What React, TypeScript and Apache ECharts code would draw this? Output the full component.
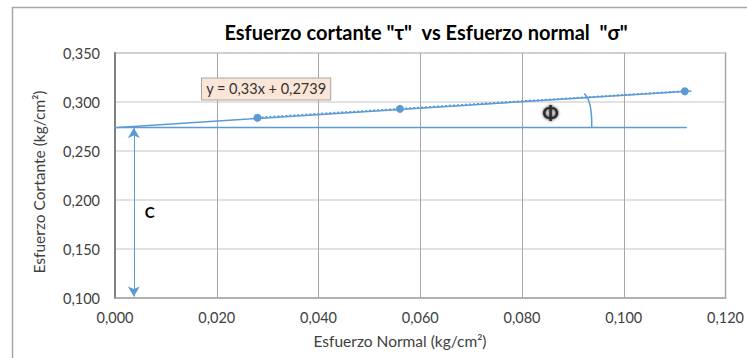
import React, { useEffect, useRef } from "react";
import * as echarts from "echarts";

// Ensayo de corte directo: esfuerzo normal vs esfuerzo cortante
const normalStress = [0.028, 0.056, 0.112];
const shearStress = [0.284, 0.293, 0.311];

// Recta de ajuste (envolvente de falla)
const slope = 0.33;
const intercept = 0.2739;
const trendRange = [-0.0008, 0.1133];
const cohesionLineRange = [0.0004, 0.1124];
const cohesionArrowX = 0.0037;

const xTicks = { min: 0, max: 0.12, interval: 0.02 };
const yTicks = { min: 0.1, max: 0.35, interval: 0.05 };

const xTitle = "Esfuerzo Normal (kg/cm²)";
const yTitle = "Esfuerzo Cortante (kg/cm²)";

const BLUE = "#5b9bd5";
const FONT = "Lato, 'Open Sans', sans-serif";

const fmt = (v: number, d: number) => v.toFixed(d).replace(".", ",");

export default function App() {
  const ref = useRef<HTMLDivElement>(null);

  useEffect(() => {
    if (!ref.current) return;
    const chart = echarts.init(ref.current, undefined, { renderer: "svg" });

    const points = normalStress.map((x, i) => [x, shearStress[i]]);
    const trend = trendRange.map((x) => [x, intercept + slope * x]);
    const cohesion = cohesionLineRange.map((x) => [x, intercept]);
    const equation = `y = ${fmt(slope, 2)}x + ${fmt(intercept, 4)}`;

    chart.setOption({
      animation: false,
      backgroundColor: "#ffffff",
      textStyle: { fontFamily: FONT },
      title: {
        text: 'Esfuerzo cortante "τ"  vs Esfuerzo normal  "σ"',
        left: 421,
        top: 17,
        textAlign: "center",
        textStyle: { fontFamily: FONT, fontSize: 20, fontWeight: "bold", color: "#000" },
      },
      graphic: [
        {
          type: "rect",
          left: 10,
          top: 5,
          shape: { width: 780, height: 400 },
          style: { fill: "none", stroke: "#a6a6a6", lineWidth: 1.5 },
          silent: true,
        },
        {
          type: "text",
          x: 400,
          y: 341,
          style: {
            text: xTitle,
            fill: "#404040",
            font: `15.5px ${FONT}`,
            align: "center",
            verticalAlign: "middle",
          },
          silent: true,
        },
        {
          type: "text",
          x: 39,
          y: 182,
          rotation: Math.PI / 2,
          style: {
            text: yTitle,
            fill: "#404040",
            font: `15.5px ${FONT}`,
            align: "center",
            verticalAlign: "middle",
          },
          silent: true,
        },
      ],
      grid: {
        left: 115,
        top: 53,
        right: 19,
        bottom: 60,
        show: true,
        borderColor: "#a6a6a6",
        borderWidth: 1.5,
      },
      xAxis: {
        type: "value",
        ...xTicks,
        axisLine: { show: true, lineStyle: { color: "#a6a6a6", width: 1.5 } },
        axisTick: { show: false },
        axisLabel: {
          fontFamily: FONT,
          fontSize: 14.5,
          color: "#404040",
          margin: 12,
          formatter: (v: number) => fmt(v, 3),
        },
        splitLine: { show: true, lineStyle: { color: "#a6a6a6", width: 1 } },
      },
      yAxis: {
        type: "value",
        ...yTicks,
        axisLine: { show: true, lineStyle: { color: "#808080", width: 2 } },
        axisTick: { show: false },
        axisLabel: {
          fontFamily: FONT,
          fontSize: 14.5,
          color: "#404040",
          margin: 15,
          formatter: (v: number) => fmt(v, 3),
        },
        splitLine: { show: true, lineStyle: { color: "#d9d9d9", width: 1.5 } },
      },
      series: [
        {
          name: "Envolvente",
          type: "line",
          data: trend,
          clip: false,
          symbol: "none",
          lineStyle: { color: BLUE, width: 1.5 },
          z: 3,
        },
        {
          name: "Cohesión",
          type: "line",
          data: cohesion,
          clip: false,
          symbol: "none",
          lineStyle: { color: BLUE, width: 1.5 },
          z: 3,
          markLine: {
            silent: true,
            symbol: ["arrow", "arrow"],
            symbolSize: [9, 10],
            label: { show: false },
            lineStyle: { color: BLUE, width: 1, type: "solid" },
            data: [
              [
                { coord: [cohesionArrowX, intercept - 0.0004] },
                { coord: [cohesionArrowX, yTicks.min + 0.0015] },
              ],
            ],
          },
        },
        {
          name: "Ensayos",
          type: "line",
          data: points,
          symbol: "circle",
          symbolSize: 8,
          itemStyle: { color: BLUE },
          lineStyle: { color: BLUE, width: 2, type: "dotted" },
          z: 4,
        },
        {
          name: "Anotaciones",
          type: "custom",
          clip: false,
          data: [[0]],
          z: 5,
          renderItem: (_params: any, api: any) => {
            const p0 = api.coord([0.0922, 0.3085]);
            const cp = api.coord([0.0938, 0.302]);
            const p1 = api.coord([0.0937, intercept]);
            const phi = api.coord([0.0856, 0.2888]);
            const cLbl = api.coord([0.0068, 0.1878]);
            const eq = api.coord([0.0297, 0.3133]);
            return {
              type: "group",
              children: [
                {
                  type: "bezierCurve",
                  shape: { x1: p0[0], y1: p0[1], cpx1: cp[0], cpy1: cp[1], x2: p1[0], y2: p1[1] },
                  style: { fill: "none", stroke: BLUE, lineWidth: 1.5 },
                },
                {
                  type: "text",
                  x: phi[0],
                  y: phi[1],
                  style: {
                    text: "Φ",
                    fill: "#2a2a2a",
                    font: `bold 19px ${FONT}`,
                    align: "center",
                    verticalAlign: "middle",
                    textShadowColor: "rgba(0,0,0,0.85)",
                    textShadowBlur: 3,
                  },
                },
                {
                  type: "text",
                  x: cLbl[0],
                  y: cLbl[1],
                  style: {
                    text: "C",
                    fill: "#000",
                    font: `bold 15px ${FONT}`,
                    align: "center",
                    verticalAlign: "middle",
                  },
                },
                {
                  type: "text",
                  x: eq[0],
                  y: eq[1],
                  style: {
                    text: equation,
                    fill: "#333333",
                    font: `14.5px ${FONT}`,
                    align: "center",
                    verticalAlign: "middle",
                    backgroundColor: "#fbe5d6",
                    borderColor: "#a6a6a6",
                    borderWidth: 1,
                    padding: [3, 4, 3, 4],
                  },
                },
              ],
            };
          },
        },
      ],
    });

    return () => chart.dispose();
  }, []);

  return (
    <div
      ref={ref}
      style={{ position: "fixed", left: 0, top: 0, width: 747, height: 358 }}
    />
  );
}
